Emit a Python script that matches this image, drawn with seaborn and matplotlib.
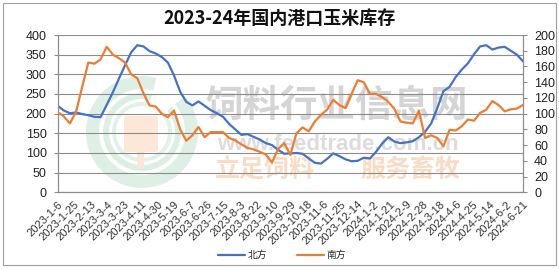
import matplotlib
matplotlib.use("Agg")
import matplotlib.pyplot as plt
import matplotlib.patches as mpatches
from matplotlib.transforms import IdentityTransform
from matplotlib.lines import Line2D
import seaborn as sns
import pandas as pd
import numpy as np

# ---------------- data ----------------
start_date = "2023-01-06"
n_weeks = 77
north = [220, 208, 201, 203, 199, 196, 192, 191, 222, 254,
         289, 323, 356, 374, 371, 359, 353, 344, 330, 297,
         256, 230, 221, 231, 220, 209, 201, 192, 174, 160,
         146, 148, 141, 134, 125, 120, 108, 98, 99, 100,
         98, 86, 75, 73, 85, 99, 92, 84, 79, 80,
         88, 86, 103, 124, 140, 129, 125, 127, 130, 140,
         154, 175, 214, 257, 268, 293, 312, 328, 351, 371,
         374, 363, 368, 370, 360, 350, 333]
south = [204, 193, 175, 205, 268, 330, 327, 338, 370, 350,
         341, 330, 300, 290, 252, 221, 218, 200, 191, 208,
         160, 131, 145, 166, 140, 153, 153, 153, 138, 132,
         122, 113, 109, 103, 96, 76, 110, 125, 95, 150,
         165, 155, 180, 197, 210, 235, 222, 214, 250, 285,
         280, 250, 250, 242, 230, 212, 180, 177, 175, 208,
         138, 145, 138, 117, 159, 157, 168, 185, 182, 202,
         210, 232, 222, 206, 211, 213, 222]
south_right = [v / 2 for v in south]  # right-axis units (0-200)
tick_labels = ["2023-1-6", "2023-1-25", "2023-2-13", "2023-3-4", "2023-3-23",
               "2023-4-11", "2023-4-30", "2023-5-19", "2023-6-7", "2023-6-26",
               "2023-7-15", "2023-8-3", "2023-8-22", "2023-9-10", "2023-9-29",
               "2023-10-18", "2023-11-6", "2023-11-25", "2023-12-14", "2024-1-2",
               "2024-1-21", "2024-2-9", "2024-2-28", "2024-3-18", "2024-4-6",
               "2024-4-25", "2024-5-14", "2024-6-2", "2024-6-21"]
series_names = ["北方", "南方"]
title = "2023-24年国内港口玉米库存"

dates = pd.date_range(start_date, periods=n_weeks, freq="7D")
tick_dates = pd.to_datetime(tick_labels, format="%Y-%m-%d")
df = pd.DataFrame({"date": dates, "north": north, "south": south_right})

# ---------------- style ----------------
sns.set_style("white")
plt.rcParams["font.family"] = ["Liberation Sans", "Noto Sans CJK SC", "DejaVu Sans"]
CJK = ["Noto Sans CJK SC", "DejaVu Sans"]
BLUE = "#4472C4"
ORANGE = "#ED7D31"
GRID = "#8c8c8c"

W, H = 559, 269
fig = plt.figure(figsize=(W / 100, H / 100), dpi=100)
fig.patch.set_facecolor("white")
ax = fig.add_axes([57.7 / W, 1 - 192.3 / H, (523 - 57.7) / W, (192.3 - 35) / H])
ax2 = ax.twinx()

# ---------------- watermark ----------------
idt = IdentityTransform()
cx, cy = 142, H - 132
for r, w, c in [(56, 13, "#def0e5"), (39, 6, "#dcefe4"), (30, 4, "#e2f2e8")]:
    ring = mpatches.Wedge((cx, cy), r, 75, 40, width=w, transform=idt,
                          facecolor=c, edgecolor="none", zorder=0.2)
    ax.add_artist(ring)
ax.add_artist(mpatches.FancyBboxPatch((126, H - 150), 30, 32,
                                      boxstyle="round,pad=2", transform=idt,
                                      facecolor="#fde7d6", edgecolor="none", zorder=0.3))
ax.add_artist(mpatches.Rectangle((137, H - 168), 7, 20, transform=idt,
                                 facecolor="#fde7d6", edgecolor="none", zorder=0.3))
ax.text(337 / W, 1 - 105 / H, "饲料行业信息网", transform=fig.transFigure,
        fontsize=27, fontweight="bold", color="#d5d5d5", ha="center", va="center",
        family=CJK, zorder=0.4)
ax.text(338 / W, 1 - 145 / H, "www.feedtrade.com.cn", transform=fig.transFigure,
        fontsize=16, fontweight="bold", color="#dcdcdc", ha="center", va="center",
        zorder=0.4)
ax.text(265 / W, 1 - 170 / H, "立足饲料", transform=fig.transFigure,
        fontsize=18, fontweight="bold", color="#fadbc3", ha="center", va="center",
        family=CJK, zorder=0.4)
ax.text(410 / W, 1 - 170 / H, "服务畜牧", transform=fig.transFigure,
        fontsize=18, fontweight="bold", color="#fadbc3", ha="center", va="center",
        family=CJK, zorder=0.4)

# ---------------- lines ----------------
sns.lineplot(data=df, x="date", y="north", ax=ax, color=BLUE, linewidth=1.6, zorder=3)
sns.lineplot(data=df, x="date", y="south", ax=ax2, color=ORANGE, linewidth=1.6, zorder=3)

ax.set_ylim(0, 400)
ax.set_yticks(np.arange(0, 401, 50))
ax2.set_ylim(0, 200)
ax2.set_yticks(np.arange(0, 201, 20))
ax.set_xlim(dates[0], dates[-1])
ax.set_xticks(tick_dates)
ax.set_xticklabels(tick_labels, rotation=45, ha="right", rotation_mode="anchor",
                   fontsize=8, color="#333333")
ax.set_xlabel("")
ax.set_ylabel("")
ax2.set_ylabel("")

ax.grid(axis="y", color=GRID, linewidth=0.8)
ax.grid(axis="x", visible=False)
ax2.grid(False)
ax.set_axisbelow(True)

for a in (ax, ax2):
    for s in ["left", "right", "bottom"]:
        a.spines[s].set_color(GRID)
        a.spines[s].set_linewidth(0.8)
    a.spines["top"].set_visible(False)
ax.tick_params(axis="y", length=3, width=0.8, color=GRID, pad=5, labelsize=9, labelcolor="#222222")
ax.tick_params(axis="x", length=3, width=0.8, color=GRID, pad=2)
ax2.tick_params(axis="y", length=3, width=0.8, color=GRID, pad=5, labelsize=9, labelcolor="#222222")

# ---------------- title & legend ----------------
fig.text(280 / W, 1 - 18 / H, title, ha="center", va="center", fontsize=13,
         fontweight="bold", family=CJK, color="#111111")
handles = [Line2D([], [], color=BLUE, linewidth=1.6),
           Line2D([], [], color=ORANGE, linewidth=1.6)]
leg = fig.legend(handles, series_names, loc="center", bbox_to_anchor=(282 / W, 1 - 255 / H),
                 ncol=2, frameon=False, handlelength=2.8, handletextpad=0.3,
                 columnspacing=3.0, prop={"family": CJK, "size": 7})

fig.patches.append(mpatches.Rectangle((3 / W, 4 / H), (W - 6) / W, (H - 7) / H,
                                      transform=fig.transFigure, fill=False,
                                      edgecolor="#a0a0a0", linewidth=0.8))

fig.savefig("out.png", dpi=100, facecolor="white")
